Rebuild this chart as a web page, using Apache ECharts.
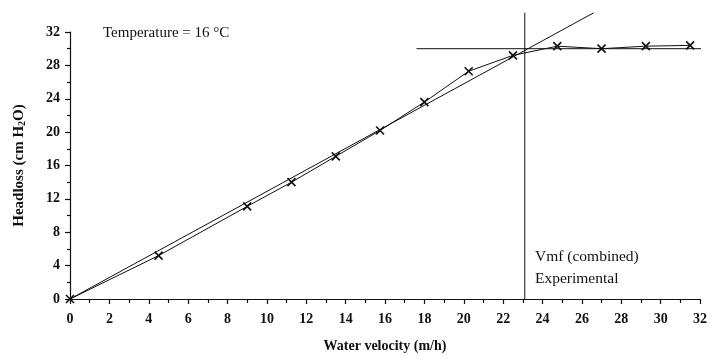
<!DOCTYPE html>
<html>
<head>
<meta charset="utf-8">
<script src="https://cdn.jsdelivr.net/npm/echarts@6/dist/echarts.min.js"></script>
<style>
  html, body { margin: 0; padding: 0; background: #fff; }
  #chart { width: 710px; height: 358px; }
</style>
</head>
<body>
<div id="chart"></div>
<script>
// Measured headloss versus superficial water velocity
const velocity = [0, 4.5, 9.0, 11.25, 13.5, 15.75, 18.0, 20.25, 22.5, 24.75, 27.0, 29.25, 31.5];
const headloss = [0, 5.2, 11.1, 14.0, 17.1, 20.2, 23.6, 27.3, 29.2, 30.3, 30.0, 30.3, 30.4];

// Fitted straight line through the fixed-bed region
const fitLine = [[0, 0], [26.6, 34.3]];
// Plateau (fluidised bed) headloss
const plateauLine = [[17.6, 30.0], [32.1, 30.0]];
// Minimum fluidisation velocity marker
const vmfLine = [[23.1, 0], [23.1, 34.3]];

const xTicks = { min: 0, max: 32, interval: 2 };
const yTicks = { min: 0, max: 32, interval: 4 };

const font = '"Liberation Serif", "Times New Roman", serif';
const black = '#111';

const chart = echarts.init(document.getElementById('chart'), null, { renderer: 'canvas' });

function lineSeries(data) {
  return {
    type: 'line',
    data: data,
    symbol: 'none',
    clip: false,
    silent: true,
    lineStyle: { color: black, width: 1 },
    z: 2
  };
}

chart.setOption({
  animation: false,
  backgroundColor: '#fff',
  grid: { left: 70, right: 4, top: 32, bottom: 59 },
  xAxis: {
    type: 'value',
    min: xTicks.min, max: xTicks.max, interval: xTicks.interval,
    name: 'Water velocity (m/h)',
    nameLocation: 'middle',
    nameGap: 40,
    nameTextStyle: { fontFamily: font, fontSize: 14, fontWeight: 'bold', color: black },
    axisLine: { lineStyle: { color: black, width: 1.2 } },
    axisTick: { show: true, inside: false, length: 5, lineStyle: { color: black, width: 1.2 } },
    minorTick: { show: true, splitNumber: 2, length: 4, lineStyle: { color: black, width: 1.2 } },
    axisLabel: { fontFamily: font, fontSize: 14, fontWeight: 'bold', color: black, margin: 13 },
    splitLine: { show: false }
  },
  yAxis: {
    type: 'value',
    min: yTicks.min, max: yTicks.max, interval: yTicks.interval,
    name: '{a|Headloss (cm H}{s|2}{a|O)}',
    nameLocation: 'middle',
    nameRotate: 90,
    nameGap: 43,
    nameTextStyle: {
      rich: {
        a: { fontFamily: font, fontSize: 15, fontWeight: 'bold', color: black },
        s: { fontFamily: font, fontSize: 10, fontWeight: 'bold', color: black, verticalAlign: 'bottom', padding: [6, 0, 0, 0] }
      }
    },
    axisLine: { show: true, lineStyle: { color: black, width: 1.2 } },
    axisTick: { show: true, inside: false, length: 5, lineStyle: { color: black, width: 1.2 } },
    minorTick: { show: true, splitNumber: 2, length: 3, lineStyle: { color: black, width: 1.2 } },
    axisLabel: { fontFamily: font, fontSize: 14, fontWeight: 'bold', color: black, margin: 10 },
    splitLine: { show: false }
  },
  series: [
    lineSeries(fitLine),
    lineSeries(plateauLine),
    lineSeries(vmfLine),
    {
      type: 'line',
      data: velocity.map((v, i) => [v, headloss[i]]),
      symbol: 'path://M0,0L10,10M10,0L0,10',
      symbolSize: 8,
      showSymbol: true,
      clip: false,
      silent: true,
      lineStyle: { color: black, width: 1 },
      itemStyle: { color: 'none', borderColor: black, borderWidth: 1.6 },
      z: 3
    }
  ],
  graphic: [
    {
      type: 'text', left: 103, top: 26,
      style: { text: 'Temperature = 16 °C', font: '15px ' + font, fill: black }
    },
    {
      type: 'text', left: 535, top: 246,
      style: { text: 'Vmf (combined)\nExperimental', font: '15.5px ' + font, fill: black, lineHeight: 22 }
    }
  ]
});
</script>
</body>
</html>
